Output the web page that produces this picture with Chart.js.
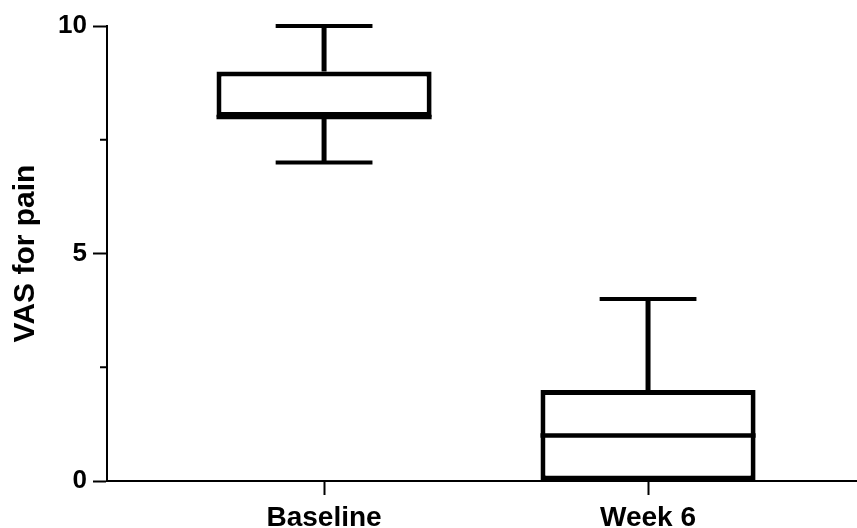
<!DOCTYPE html>
<html>
<head>
<meta charset="utf-8">
<script src="https://cdn.jsdelivr.net/npm/chart.js@4.4.1/dist/chart.umd.min.js"></script>
<style>
  html, body { margin: 0; padding: 0; background: #fff; }
  #wrap { width: 857px; height: 528px; }
</style>
</head>
<body>
<div id="wrap"><canvas id="boxCanvas" width="857" height="528"></canvas></div>
<script>
const categories = ['Baseline', 'Week 6'];
const mins = [7, 0];
const q1s = [8, 0];
const medians = [8, 1];
const q3s = [9, 2];
const maxs = [10, 4];
const yMajorTicks = [0, 5, 10];
const yMinorTicks = [2.5, 7.5];

const FONT = '"Liberation Sans", Arial, sans-serif';

// whiskers, caps, medians and minor ticks drawn off the chart's own scales
const boxExtras = {
  id: 'boxExtras',
  afterDatasetsDraw(chart) {
    const c = chart.ctx;
    const xs = chart.scales.x;
    const ys = chart.scales.y;
    const meta = chart.getDatasetMeta(0);
    c.save();
    c.strokeStyle = '#000';
    c.lineCap = 'butt';
    categories.forEach((cat, i) => {
      const bar = meta.data[i];
      const cx = xs.getPixelForValue(i + 1);
      const half = bar.width / 2;
      const capHalf = bar.width * 0.225;
      // upper whisker
      c.lineWidth = 5;
      c.beginPath();
      c.moveTo(cx, ys.getPixelForValue(maxs[i]));
      c.lineTo(cx, ys.getPixelForValue(q3s[i]));
      c.stroke();
      c.lineWidth = 4;
      c.beginPath();
      c.moveTo(cx - capHalf, ys.getPixelForValue(maxs[i]));
      c.lineTo(cx + capHalf, ys.getPixelForValue(maxs[i]));
      c.stroke();
      // lower whisker
      if (mins[i] < q1s[i]) {
        c.lineWidth = 5;
        c.beginPath();
        c.moveTo(cx, ys.getPixelForValue(q1s[i]));
        c.lineTo(cx, ys.getPixelForValue(mins[i]));
        c.stroke();
        c.lineWidth = 4;
        c.beginPath();
        c.moveTo(cx - capHalf, ys.getPixelForValue(mins[i]));
        c.lineTo(cx + capHalf, ys.getPixelForValue(mins[i]));
        c.stroke();
      }
      // median
      c.lineWidth = 4.5;
      c.beginPath();
      c.moveTo(cx - half, ys.getPixelForValue(medians[i]));
      c.lineTo(cx + half, ys.getPixelForValue(medians[i]));
      c.stroke();
    });
    // minor ticks on y axis
    c.lineWidth = 2;
    yMinorTicks.forEach(v => {
      const py = ys.getPixelForValue(v);
      c.beginPath();
      c.moveTo(chart.chartArea.left - 7, py);
      c.lineTo(chart.chartArea.left, py);
      c.stroke();
    });
    c.restore();
  }
};

const ctx = document.getElementById('boxCanvas').getContext('2d');
new Chart(ctx, {
  type: 'bar',
  data: {
    datasets: [{
      data: categories.map((cat, i) => ({ x: i + 1, y: [q1s[i], q3s[i]] })),
      backgroundColor: '#fff',
      borderColor: '#000',
      borderWidth: 5,
      borderSkipped: false,
      barPercentage: 0.664,
      categoryPercentage: 1,
      clip: false
    }]
  },
  options: {
    responsive: false,
    animation: false,
    devicePixelRatio: 1,
    layout: { padding: { top: 26, right: 0, left: 0, bottom: 0 } },
    plugins: {
      legend: { display: false },
      tooltip: { enabled: false }
    },
    scales: {
      x: {
        type: 'linear',
        offset: false,
        min: 0.33,
        max: 2.645,
        afterBuildTicks: s => { s.ticks = categories.map((c, i) => ({ value: i + 1 })); },
        afterFit: s => { s.height = 47; },
        ticks: {
          autoSkip: false,
          maxRotation: 0,
          padding: 6,
          color: '#000',
          font: { family: FONT, size: 28, weight: 'bold' },
          callback: v => categories[v - 1]
        },
        grid: { offset: false, drawOnChartArea: false, drawTicks: true, tickLength: 14, tickWidth: 2, tickColor: '#000' },
        border: { color: '#000', width: 2 }
      },
      y: {
        min: 0,
        max: 10,
        afterBuildTicks: s => { s.ticks = yMajorTicks.map(v => ({ value: v })); },
        afterFit: s => { s.width = 107; },
        ticks: {
          padding: 6,
          color: '#000',
          font: { family: FONT, size: 26, weight: 'bold' }
        },
        grid: { drawOnChartArea: false, drawTicks: true, tickLength: 14, tickWidth: 2, tickColor: '#000' },
        border: { color: '#000', width: 2 },
        title: {
          display: true,
          text: 'VAS for pain',
          color: '#000',
          padding: { top: 8, bottom: 0 },
          font: { family: FONT, size: 30, weight: 'bold' }
        }
      }
    }
  },
  plugins: [boxExtras]
});
</script>
</body>
</html>
